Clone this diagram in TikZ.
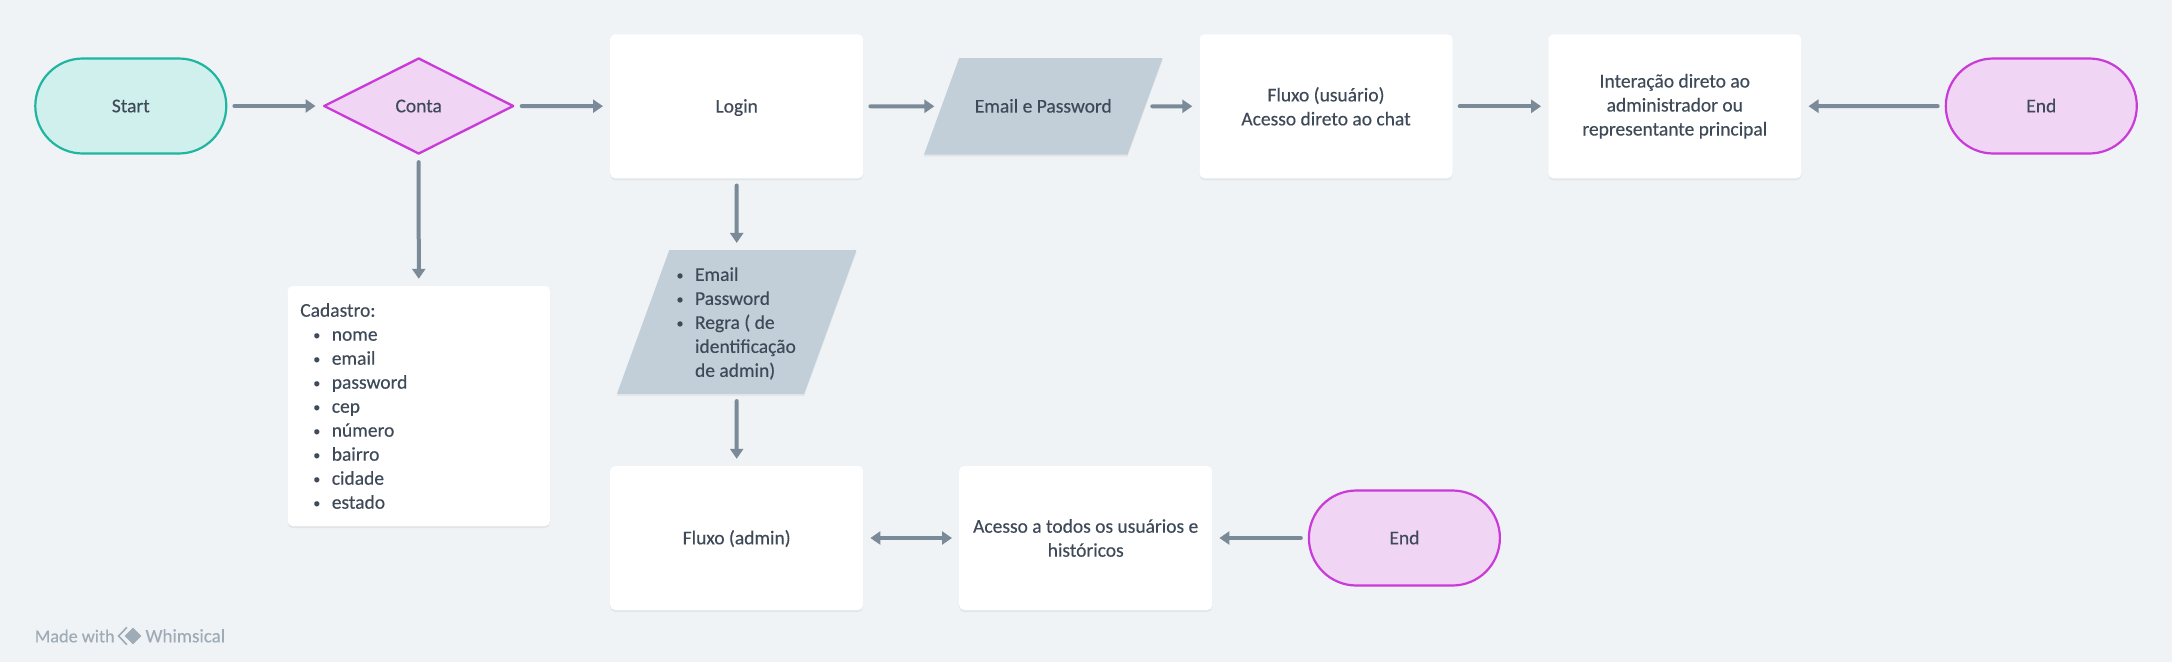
\documentclass[tikz,border=0pt]{standalone}
\usepackage{fontspec}
\setmainfont{Carlito}[RawFeature={embolden=0.35}]
\usetikzlibrary{shapes.geometric,arrows.meta,shadows}
\definecolor{bgc}{HTML}{EFF3F6}
\definecolor{inkc}{HTML}{3F4A59}
\definecolor{arrowc}{HTML}{7A8A98}
\definecolor{paraf}{HTML}{C2CFD9}
\definecolor{tealf}{HTML}{D0F0EE}
\definecolor{teals}{HTML}{1FB5A0}
\definecolor{pinkf}{HTML}{F0D6F4}
\definecolor{pinks}{HTML}{C93AD8}
\definecolor{markc}{HTML}{9FABB6}
\newcommand{\lineitem}[1]{\makebox[17.5pt][l]{\hspace*{-1pt}\raisebox{1pt}{\fontsize{14}{14}\selectfont\textbullet}}#1}
\newcommand{\lineitemcont}[1]{\hspace*{17.5pt}#1}
\newcommand{\oneline}{\rule[-10pt]{0pt}{32.6pt}}
\tikzset{
  every node/.style={text=inkc,font=\fontsize{19.5}{24}\selectfont,inner sep=0pt,align=center},
  softshadow/.style={general shadow={shadow yshift=-2pt,fill=black,opacity=.05}},
  card/.style={rectangle,rounded corners=5pt,fill=white,softshadow,minimum width=253pt,minimum height=144pt},
  terminal/.style={rectangle,rounded corners=47.5pt,line width=2.2pt,minimum width=191pt,minimum height=95pt},
  startnode/.style={terminal,fill=tealf,draw=teals},
  endnode/.style={terminal,fill=pinkf,draw=pinks},
  decision/.style={diamond,aspect=1.96,fill=pinkf,draw=pinks,line width=2.3pt,line join=round,minimum width=190pt,minimum height=96pt},
  dataio/.style={trapezium,trapezium left angle=70,trapezium right angle=110,trapezium stretches body,fill=paraf,softshadow},
  flow/.style={draw=arrowc,line width=4pt,line cap=round,-{Triangle[length=10pt,width=13pt]},shorten >=7pt,shorten <=7pt},
  flowboth/.style={flow,{Triangle[length=10pt,width=13pt]}-{Triangle[length=10pt,width=13pt]}},
  markfont/.style={text=markc,anchor=west},
}
\begin{document}
\begin{tikzpicture}[x=1pt,y=-1pt]
\useasboundingbox (0,0) rectangle (2172,662);
\fill[bgc] (0,0) rectangle (2172,662);
\node[startnode] (start) at (130.8,106) {\oneline Start};
\node[decision] (conta) at (418.7,106) {\oneline Conta};
\node[card] (login) at (736.7,106.3) {\oneline Login};
\node[dataio,minimum width=238.6pt] (email) at (1043.3,106.3) {\rule[-42pt]{0pt}{96.5pt}Email e Password};
\node[card] (fluxou) at (1326,106.3) {Fluxo (usuário)\\Acesso direto ao chat};
\node[card] (inter) at (1674.8,106.3) {Interação direto ao\\administrador ou\\representante principal};
\node[endnode] (end1) at (2041.3,106) {\oneline End};
\node[card,minimum width=262.4pt,minimum height=240pt,text width=237pt,align=left] (cad) at (418.8,406) {Cadastro:\\
\hspace*{14pt}\lineitem{nome}\\
\hspace*{14pt}\lineitem{email}\\
\hspace*{14pt}\lineitem{password}\\
\hspace*{14pt}\lineitem{cep}\\
\hspace*{14pt}\lineitem{número}\\
\hspace*{14pt}\lineitem{bairro}\\
\hspace*{14pt}\lineitem{cidade}\\
\hspace*{14pt}\lineitem{estado}};
\node[dataio,minimum width=239.5pt,align=left] (regras) at (736.7,322) {\rule{0pt}{30.7pt}\lineitem{Email}\\\lineitem{Password}\\\lineitem{Regra ( de}\\\lineitemcont{identificação}\\\rule[-17pt]{0pt}{17pt}\lineitemcont{de admin)}};
\node[card] (fluxoa) at (736.7,538) {\oneline Fluxo (admin)};
\node[card] (acesso) at (1085.7,538) {Acesso a todos os usuários e\\históricos};
\node[endnode] (end2) at (1404.4,538) {\oneline End};
\draw[flow] (start) -- (conta);
\draw[flow] (conta) -- (login);
\draw[flow] (conta) -- (cad);
\draw[flow] (login) -- (email);
\draw[flow] (email) -- (fluxou);
\draw[flow] (fluxou) -- (inter);
\draw[flow] (end1) -- (inter);
\draw[flow] (login) -- (regras);
\draw[flow] (regras) -- (fluxoa);
\draw[flowboth] (fluxoa) -- (acesso);
\draw[flow] (end2) -- (acesso);
\node[markfont,font=\fontsize{18.2}{22}\selectfont] (made) at (34.6,636) {\oneline Made with};
\node[diamond,fill=markc,minimum width=17pt,minimum height=17pt] (mark) at (133,636) {};
\draw[markc,line width=1.6pt] ([xshift=-6pt]mark.north) -- ([xshift=-14.5pt]mark.center) -- ([xshift=-6pt]mark.south);
\node[markfont,font=\fontsize{19}{22}\selectfont] (brand) at (145.4,636) {\oneline Whimsical};
\end{tikzpicture}
\end{document}
